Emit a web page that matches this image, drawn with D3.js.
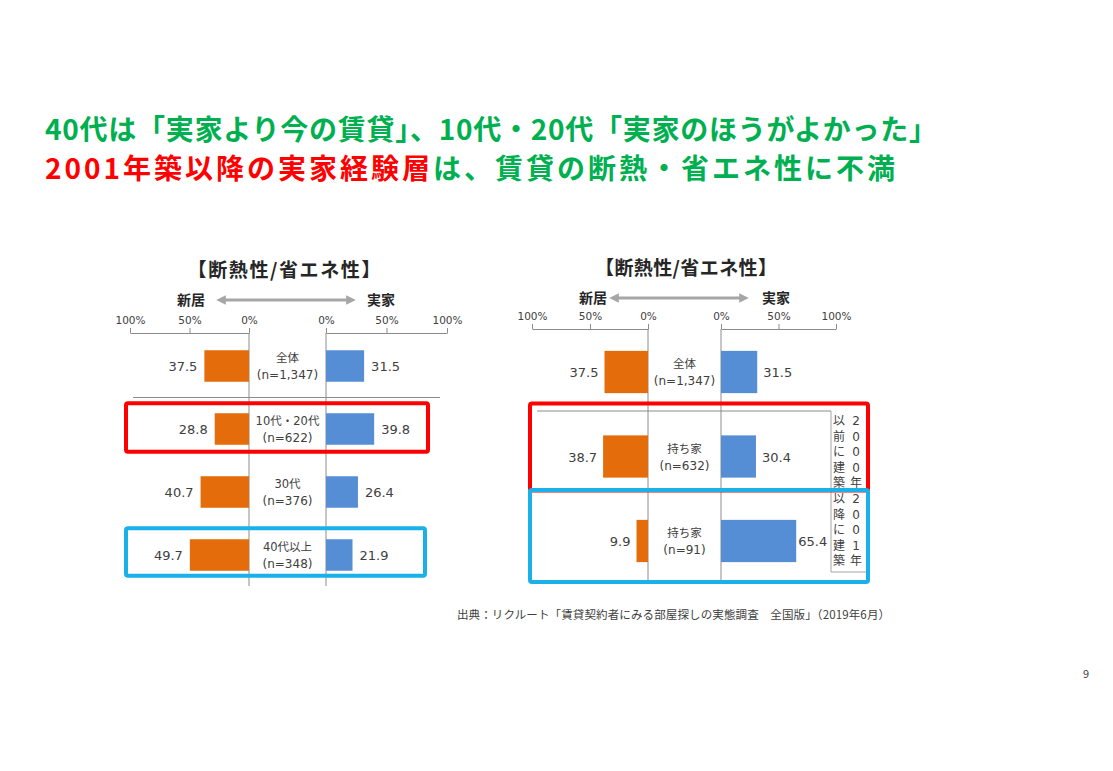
<!DOCTYPE html>
<html>
<head>
<meta charset="utf-8">
<script src="https://cdn.jsdelivr.net/npm/d3@7"></script>
<style>
  body { margin: 0; background: #fff; }
  svg { display: block; font-family: "Noto Sans CJK JP", "Noto Sans", sans-serif; }
</style>
</head>
<body>
<svg id="chart" width="1113" height="771"></svg>
<script>
// 左グラフ（年代別）
const leftCats = [["全体", "(n=1,347)"], ["10代・20代", "(n=622)"], ["30代", "(n=376)"], ["40代以上", "(n=348)"]];
const leftShinkyo = [37.5, 28.8, 40.7, 49.7];
const leftJikka = [31.5, 39.8, 26.4, 21.9];

// 右グラフ（築年別）
const rightCats = [["全体", "(n=1,347)"], ["持ち家", "(n=632)"], ["持ち家", "(n=91)"]];
const rightShinkyo = [37.5, 38.7, 9.9];
const rightJikka = [31.5, 30.4, 65.4];
const rightSide = [["2", "0", "0", "0", "年"], ["以", "前", "に", "建", "築"], ["2", "0", "0", "1", "年"], ["以", "降", "に", "建", "築"]];

const tickValues = [0, 50, 100];
const chartTitle = "【断熱性/省エネ性】";

const ORANGE = "#E46C0A", BLUE = "#558ED5", GREEN = "#00B050", RED = "#FF0000", SKY = "#1AB0EA";
const TEXT = "#404040", GRID = "#8c8c8c";
const LATIN = "'DejaVu Sans', 'Noto Sans CJK JP', sans-serif";

const svg = d3.select("#chart");

// ページ見出し
svg.append("text").attr("x", 45).attr("y", 140)
  .attr("font-size", 28).attr("font-weight", "bold").attr("fill", GREEN)
  .attr("textLength", 892).attr("lengthAdjust", "spacing")
  .text("40代は「実家より今の賃貸」、10代・20代「実家のほうがよかった」");
const t2 = svg.append("text").attr("x", 45).attr("y", 179)
  .attr("font-size", 28).attr("font-weight", "bold")
  .attr("textLength", 850).attr("lengthAdjust", "spacing");
t2.append("tspan").attr("fill", RED).text("2001年築以降の実家経験層");
t2.append("tspan").attr("fill", GREEN).text("は、賃貸の断熱・省エネ性に不満");

// 矢印マーカー
const defs = svg.append("defs");
["start", "end"].forEach(k => {
  defs.append("marker").attr("id", "arr-" + k)
    .attr("viewBox", "0 0 10 10").attr("refX", 5).attr("refY", 5)
    .attr("markerWidth", 3.2).attr("markerHeight", 3.2)
    .attr("orient", k === "start" ? "auto-start-reverse" : "auto")
    .append("path").attr("d", "M0,0 L10,5 L0,10 z").attr("fill", "#a6a6a6");
});

function drawChart(o) {
  const g = svg.append("g");
  const xL = d3.scaleLinear().domain([0, 100]).range([o.l0, o.l100]);
  const xR = d3.scaleLinear().domain([0, 100]).range([o.r0, o.r100]);
  const y = d3.scaleBand().domain(d3.range(o.cats.length))
    .range([o.top, o.bottom]).paddingInner(0.5).paddingOuter(0.25);
  const mid = (o.l0 + o.r0) / 2;

  g.append("text").attr("x", o.titleX).attr("y", o.titleY)
    .attr("text-anchor", "middle").attr("font-size", 19).attr("font-weight", "bold")
    .attr("fill", "#262626").attr("textLength", o.titleW).attr("lengthAdjust", "spacing")
    .text(chartTitle);

  g.append("text").attr("x", o.shinX).attr("y", o.legY + 5).attr("text-anchor", "middle")
    .attr("font-size", 14).attr("font-weight", "bold").attr("fill", "#262626").text("新居");
  g.append("text").attr("x", o.jikX).attr("y", o.legY + 5).attr("text-anchor", "middle")
    .attr("font-size", 14).attr("font-weight", "bold").attr("fill", "#262626").text("実家");
  g.append("line").attr("x1", o.arrX[0] + 4).attr("x2", o.arrX[1] - 4)
    .attr("y1", o.legY).attr("y2", o.legY)
    .attr("stroke", "#a6a6a6").attr("stroke-width", 3)
    .attr("marker-start", "url(#arr-start)").attr("marker-end", "url(#arr-end)");

  // 軸
  [xL, xR].forEach(sc => {
    const ax = g.append("g").attr("transform", `translate(0,${o.axisY})`)
      .call(d3.axisTop(sc).tickValues(tickValues).tickSize(5).tickSizeOuter(0).tickPadding(4)
        .tickFormat(d => d + "%"));
    ax.select(".domain").attr("stroke", GRID);
    ax.selectAll(".tick line").attr("stroke", GRID);
    ax.selectAll(".tick text").attr("fill", TEXT).attr("font-size", 10.5)
      .attr("font-family", LATIN);
  });

  // 0%の縦線
  [o.l0, o.r0].forEach(x => {
    g.append("line").attr("x1", x).attr("x2", x).attr("y1", o.axisY).attr("y2", o.lineEnd)
      .attr("stroke", GRID).attr("stroke-width", 1);
  });

  if (o.sepY) {
    g.append("line").attr("x1", o.sep[0]).attr("x2", o.sep[1])
      .attr("y1", o.sepY).attr("y2", o.sepY).attr("stroke", GRID);
  }

  const rows = g.selectAll(".row").data(o.cats).join("g").attr("class", "row")
    .attr("font-family", LATIN);

  rows.append("rect").attr("x", (d, i) => xL(o.shin[i])).attr("y", (d, i) => y(i))
    .attr("width", (d, i) => o.l0 - xL(o.shin[i])).attr("height", y.bandwidth()).attr("fill", ORANGE);
  rows.append("rect").attr("x", o.r0).attr("y", (d, i) => y(i))
    .attr("width", (d, i) => xR(o.jik[i]) - o.r0).attr("height", y.bandwidth()).attr("fill", BLUE);

  rows.append("text").attr("x", (d, i) => xL(o.shin[i]) - o.valGap)
    .attr("y", (d, i) => y(i) + y.bandwidth() / 2 + 5).attr("text-anchor", "end")
    .attr("font-size", 13).attr("fill", TEXT).text((d, i) => o.shin[i].toFixed(1));
  rows.append("text").attr("x", (d, i) => xR(o.jik[i]) + o.valGapR[i])
    .attr("y", (d, i) => y(i) + y.bandwidth() / 2 + 5)
    .attr("font-size", 13).attr("fill", TEXT).text((d, i) => o.jik[i].toFixed(1));

  rows.append("text").attr("x", mid).attr("y", (d, i) => y(i) + y.bandwidth() / 2 - 4)
    .attr("text-anchor", "middle").attr("font-size", 11.5).attr("fill", TEXT).text(d => d[0]);
  rows.append("text").attr("x", mid).attr("y", (d, i) => y(i) + y.bandwidth() / 2 + 13)
    .attr("text-anchor", "middle").attr("font-size", 12).attr("fill", TEXT).text(d => d[1]);

  return { g, y };
}

// 左
const left = drawChart({
  cats: leftCats, shin: leftShinkyo, jik: leftJikka,
  l0: 249, l100: 130, r0: 326, r100: 447, top: 334.5, bottom: 586.5,
  axisY: 333, lineEnd: 586, titleX: 284, titleY: 277, titleW: 193,
  shinX: 191, jikX: 381, legY: 300, arrX: [217, 355],
  sepY: 397.5, sep: [133, 440], valGap: 7, valGapR: [7, 7, 7, 7]
});
const ly = left.y;
left.g.append("rect").attr("x", 126).attr("y", ly(1) - 10).attr("width", 302)
  .attr("height", ly.bandwidth() + 17).attr("rx", 2)
  .attr("fill", "none").attr("stroke", RED).attr("stroke-width", 4);
left.g.append("rect").attr("x", 126).attr("y", ly(3) - 11).attr("width", 299)
  .attr("height", ly.bandwidth() + 16).attr("rx", 2)
  .attr("fill", "none").attr("stroke", SKY).attr("stroke-width", 4);

// 右
const right = drawChart({
  cats: rightCats, shin: rightShinkyo, jik: rightJikka,
  l0: 648, l100: 532, r0: 721, r100: 836, top: 329.75, bottom: 583.25,
  axisY: 329, lineEnd: 583, titleX: 686, titleY: 275, titleW: 182,
  shinX: 593, jikX: 776, legY: 298, arrX: [610, 748],
  sepY: null, valGap: 6, valGapR: [6, 6, 2]
});
const ry = right.y;
right.g.append("line").attr("x1", 537).attr("x2", 831).attr("y1", 411).attr("y2", 411)
  .attr("stroke", GRID).attr("stroke-width", 1.2);
right.g.append("path").attr("d", "M831,411 V572 H866").attr("fill", "none").attr("stroke", "#a6a6a6");
// 縦書きラベル
const colX = [856, 839];
rightSide.forEach((col, ci) => {
  const base = ci < 2 ? 420 : 498;
  col.forEach((ch, k) => {
    right.g.append("text").attr("x", colX[ci % 2]).attr("y", base + k * 15.5 + 5)
      .attr("text-anchor", "middle").attr("font-size", 12).attr("fill", TEXT)
      .attr("font-family", LATIN).text(ch);
  });
});
right.g.append("rect").attr("x", 530).attr("y", ry(1) - 32).attr("width", 338)
  .attr("height", 87).attr("rx", 2)
  .attr("fill", "none").attr("stroke", RED).attr("stroke-width", 4);
right.g.append("rect").attr("x", 530).attr("y", ry(2) - 30).attr("width", 338)
  .attr("height", 92).attr("rx", 2)
  .attr("fill", "none").attr("stroke", SKY).attr("stroke-width", 4);

// 出典とページ番号
svg.append("text").attr("x", 457).attr("y", 619).attr("font-size", 11.5).attr("fill", TEXT)
  .attr("textLength", 433).attr("lengthAdjust", "spacing")
  .text("出典：リクルート「賃貸契約者にみる部屋探しの実態調査　全国版」（2019年6月）");
svg.append("text").attr("x", 1089).attr("y", 678).attr("text-anchor", "end")
  .attr("font-size", 11).attr("fill", TEXT).text("9");
</script>
</body>
</html>
